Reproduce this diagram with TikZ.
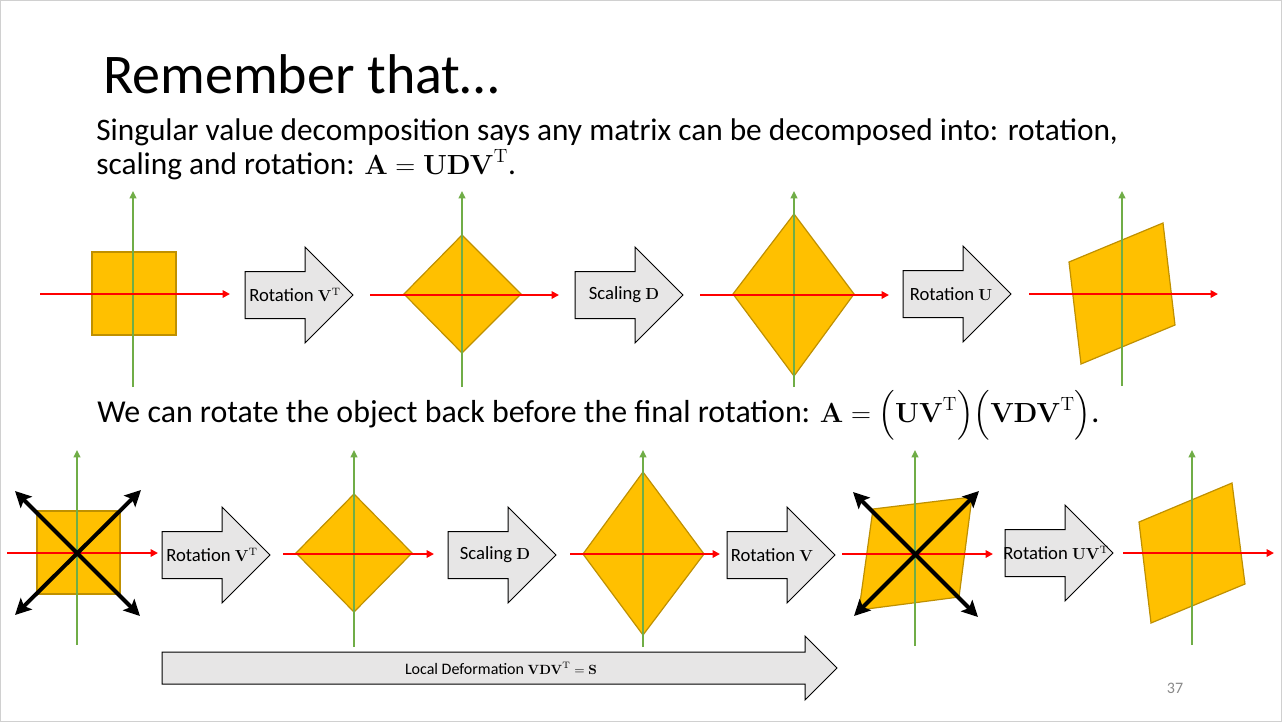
\documentclass[tikz,border=0pt]{standalone}
\usepackage[no-math]{fontspec}
\usepackage{exscale}
\setmainfont{Carlito}
\usetikzlibrary{arrows.meta}
\definecolor{gold}{HTML}{FFC000}
\definecolor{golddark}{HTML}{BF9000}
\definecolor{axgreen}{HTML}{70AD47}
\definecolor{arrowgray}{HTML}{E7E6E6}
\definecolor{pagegray}{HTML}{898989}
\definecolor{framegray}{HTML}{D0D0D0}
\tikzset{
  shapefill/.style={fill=gold, draw=golddark, line width=0.9pt, line join=miter},
  xaxis/.style={draw=red, line width=1.7pt, -{Triangle[length=5.5pt,width=5.5pt]}},
  yaxis/.style={draw=axgreen, line width=1.5pt, -{Triangle[length=5.5pt,width=5pt]}},
  bigdbl/.style={line width=3pt, {Stealth[length=12pt,width=12pt,inset=2.5pt]}-{Stealth[length=12pt,width=12pt,inset=2.5pt]}},
  blockarrow/.style={fill=arrowgray, draw=black, line width=0.75pt, line join=miter},
  lbl/.style={font=\fontsize{14}{16}\selectfont, inner sep=0pt},
  bodytext/.style={font=\fontsize{23.5}{28}\selectfont, inner sep=0pt, anchor=base west},
}
% math set a little smaller than the text, as Cambria Math is narrower than CM
\newcommand\bigmath[1]{{\fontsize{19.5}{24}\selectfont$#1$}}
\newcommand\lblmath[1]{{\fontsize{11.8}{14}\selectfont$#1$}}
\newcommand\smallmath[1]{{\fontsize{10.2}{12}\selectfont$#1$}}
\newcommand\blockarr[2]{%
  \draw[blockarrow] (#1,#2-23.5) -- ++(60,0) -- ++(0,-24.5) -- ++(48,48) -- ++(-48,48) -- ++(0,-24.5) -- ++(-60,0) -- cycle;}
\begin{document}
\begin{tikzpicture}[x=0.75pt,y=-0.75pt]
\useasboundingbox (0,0) rectangle (1282,722);
\draw[framegray, line width=0.75pt] (0.5,0.5) rectangle (1281.5,721.5);

% texts
\node[inner sep=0, anchor=base west, font=\fontsize{42}{48}\selectfont] (title) at (103,93) {Remember that…};
\node[bodytext] (line1) at (96,140) {Singular value decomposition says any matrix can be decomposed into: rotation,};
\node[bodytext] (line2) at (96,174) {scaling and rotation: \bigmath{\mathbf{A}=\mathbf{UDV}^{\mathrm{T}}}.};
\node[bodytext, font=\fontsize{23.9}{28}\selectfont] (line3) at (97,422) {We can rotate the object back before the final rotation: \bigmath{\mathbf{A}=\Bigl(\mathbf{UV}^{\mathrm{T}}\Bigr)\Bigl(\mathbf{VDV}^{\mathrm{T}}\Bigr)}.};

% ===== Row 1 =====
% panel 1
\draw[shapefill] (92,252) rectangle (176,335);
\draw[yaxis] (133,387) -- (133,191);
\draw[xaxis] (40,294) -- (230,294);
% arrow 1
\blockarr{245}{295}
\node[lbl] (r1a) at (295,295) {Rotation \lblmath{\mathbf{V}^{\mathrm{T}}}};
% panel 2
\draw[shapefill] (404,294) -- (462,235) -- (521,294) -- (462,353) -- cycle;
\draw[yaxis] (462,387) -- (462,191);
\draw[xaxis] (370,295) -- (559,295);
% arrow 2
\blockarr{575}{295}
\node[lbl] (r1b) at (624,295) {Scaling \lblmath{\mathbf{D}}};
% panel 3
\draw[shapefill] (733,294) -- (794,214) -- (854,294) -- (794,376) -- cycle;
\draw[yaxis] (794,387) -- (794,191);
\draw[xaxis] (700,295) -- (889,295);
% arrow 3
\blockarr{903}{294}
\node[lbl] (r1c) at (951,294) {Rotation \lblmath{\mathbf{U}}};
% panel 4
\draw[shapefill] (1069,262) -- (1163,223) -- (1175,325) -- (1081,364) -- cycle;
\draw[yaxis] (1122,386) -- (1122,191);
\draw[xaxis] (1029,294) -- (1218,294);

% ===== Row 2 =====
% panel 1
\draw[shapefill] (37,511) rectangle (120,594);
\draw[yaxis] (77,645) -- (77,450);
\draw[xaxis] (7,553) -- (158,553);
\draw[bigdbl] (15,491) -- (140,616);
\draw[bigdbl] (141,490) -- (15,615);
% arrow A
\blockarr{162}{555}
\node[lbl] (r2a) at (212,555) {Rotation \lblmath{\mathbf{V}^{\mathrm{T}}}};
% panel 2
\draw[shapefill] (296,553) -- (354,494) -- (412,553) -- (354,612) -- cycle;
\draw[yaxis] (354,647) -- (354,450);
\draw[xaxis] (283,554) -- (434,554);
% arrow B
\blockarr{448}{555}
\node[lbl] (r2b) at (495,555) {Scaling \lblmath{\mathbf{D}}};
% panel 3
\draw[shapefill] (583,554) -- (643,472) -- (704,554) -- (643,635) -- cycle;
\draw[yaxis] (643,647) -- (643,450);
\draw[xaxis] (570,554) -- (720,554);
% arrow C
\blockarr{727}{555}
\node[lbl] (r2c) at (772,555) {Rotation \lblmath{\mathbf{V}}};
% panel 4
\draw[shapefill] (873,509) -- (972,497) -- (959,597) -- (859,610) -- cycle;
\draw[yaxis] (915,646) -- (915,450);
\draw[xaxis] (842,554) -- (993,554);
\draw[bigdbl] (853,492) -- (978,617);
\draw[bigdbl] (979,491) -- (854,616);
% arrow D
\blockarr{1005}{553}
\node[lbl] (r2d) at (1056,553) {Rotation \lblmath{\mathbf{UV}^{\mathrm{T}}}};
% panel 5
\draw[shapefill] (1139,522) -- (1232,483) -- (1245,584) -- (1151,623) -- cycle;
\draw[yaxis] (1192,645) -- (1192,450);
\draw[xaxis] (1123,553) -- (1274,553);

% long arrow
\draw[blockarrow] (162,652) -- (805,652) -- (805,636) -- (837,668) -- (805,700) -- (805,684) -- (162,684) -- cycle;
\node[inner sep=0, font=\fontsize{12}{14}\selectfont] (local) at (501,668) {Local Deformation \smallmath{\mathbf{VDV}^{\mathrm{T}}=\mathbf{S}}};

% page number
\node[inner sep=0, font=\fontsize{12}{14}\selectfont, text=pagegray] (page) at (1175,688) {37};
\end{tikzpicture}
\end{document}
